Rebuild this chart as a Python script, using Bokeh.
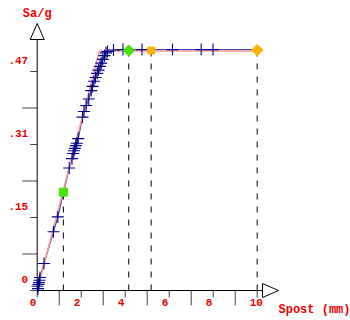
from bokeh.plotting import figure
from bokeh.models import ColumnDataSource, Range1d
from bokeh.core.properties import value
from bokeh.embed import file_html
from bokeh.resources import INLINE

# ---- data ----
pts_x = [0.036, 0.014, 0.059, 0.082, 0.105, 0.127, 0.309, 0.741, 0.936, 1.455,
         1.582, 1.636, 1.673, 1.709, 1.755, 1.800, 1.864, 2.059, 2.127, 2.227,
         2.345, 2.455, 2.514, 2.582, 2.650, 2.727, 2.786, 2.855, 2.909, 2.982,
         3.059, 3.127, 3.195, 3.468, 3.900, 4.764, 6.150, 7.455, 7.991]
pts_y = [0.004, 0.009, 0.013, 0.017, 0.022, 0.028, 0.058, 0.126, 0.158, 0.263,
         0.283, 0.294, 0.300, 0.305, 0.311, 0.316, 0.326, 0.372, 0.384, 0.397,
         0.411, 0.429, 0.438, 0.449, 0.457, 0.466, 0.473, 0.481, 0.488, 0.496,
         0.504, 0.510, 0.513, 0.516, 0.517, 0.517, 0.517, 0.517, 0.517]
curve_end_x = 10.0
curve_end_y = 0.517

fit_x = [0.0, 2.83, 10.0]
fit_y = [0.0, 0.514, 0.514]

mk_x = [1.19, 4.16, 5.18, 10.0]
mk_y = [0.211, 0.515, 0.515, 0.516]
mk_color = ["#44e400", "#44e400", "#ffb400", "#ffb400"]
mk_angle = [0.0, 0.785398, 0.0, 0.785398]
mk_size = [8, 8, 7, 8]

x_major = [0, 2, 4, 6, 8, 10]
x_major_labels = ["0", "2", "4", "6", "8", "10"]
x_minor = [1, 3, 5, 7, 9]
y_major = [0.0, 0.1567, 0.3133, 0.47]
y_major_labels = ["0", ".15", ".31", ".47"]
y_minor = [0.0783, 0.235, 0.3917]

x_title = "Spost (mm)"
y_title = "Sa/g"

# ---- layout constants (pixels / scale) ----
W, H = 350, 320
ORIGIN_PX = (36.7, 290.0)       # where (0, 0) sits on the canvas
PX_X = 1 / 22.0                  # data units per pixel, x
PX_Y = 0.47 / 219.0              # data units per pixel, y
AX_X_END = (262 - ORIGIN_PX[0]) * PX_X
AX_Y_END = (ORIGIN_PX[1] - 39) * PX_Y
HEAD_LEN, HEAD_HALF = 16, 7

RED = "#ee0000"
FONT = value("Liberation Mono")
FSIZE = value("11px")
TSIZE = value("12px")

x0 = -ORIGIN_PX[0] * PX_X
x1 = (W - ORIGIN_PX[0]) * PX_X
y0 = -(H - ORIGIN_PX[1]) * PX_Y
y1 = ORIGIN_PX[1] * PX_Y

p = figure(width=W, height=H, output_backend="svg", toolbar_location=None,
           x_range=Range1d(x0, x1), y_range=Range1d(y0, y1),
           min_border=0, min_border_left=0, min_border_right=0,
           min_border_top=0, min_border_bottom=0)
p.axis.visible = False
p.grid.visible = False
p.outline_line_color = None
p.background_fill_color = "white"
p.border_fill_color = "white"

# ---- axes drawn as glyphs ----
TICK_C = "#444444"
p.segment(x0=[0] * len(y_major), y0=y_major, x1=[-7 * PX_X] * len(y_major), y1=y_major,
          line_color=TICK_C, line_width=1)
p.segment(x0=[0] * len(y_minor), y0=y_minor, x1=[-15 * PX_X] * len(y_minor), y1=y_minor,
          line_color=TICK_C, line_width=1)
p.segment(x0=x_major, y0=[0] * len(x_major), x1=x_major, y1=[-7 * PX_Y] * len(x_major),
          line_color=TICK_C, line_width=1)
p.segment(x0=x_minor, y0=[0] * len(x_minor), x1=x_minor, y1=[-15 * PX_Y] * len(x_minor),
          line_color=TICK_C, line_width=1)
p.segment(x0=[0, 0], y0=[0, 0], x1=[0, AX_X_END], y1=[AX_Y_END, 0],
          line_color="black", line_width=1)
# arrow heads
p.patch([-HEAD_HALF * PX_X, HEAD_HALF * PX_X, 0],
        [AX_Y_END, AX_Y_END, AX_Y_END + HEAD_LEN * PX_Y],
        fill_color="white", line_color="black", line_width=1)
p.patch([AX_X_END, AX_X_END, AX_X_END + HEAD_LEN * PX_X],
        [-HEAD_HALF * PX_Y, HEAD_HALF * PX_Y, 0],
        fill_color="white", line_color="black", line_width=1)

# ---- data ----
p.segment(x0=mk_x, y0=[0] * len(mk_x), x1=mk_x, y1=mk_y,
          line_color="black", line_dash="6 7", line_width=1)
p.line(pts_x + [curve_end_x], pts_y + [curve_end_y], line_color="#4848a8", line_width=1.3)
p.line(fit_x, fit_y, line_color="#ff9a9a", line_width=1.5)
p.scatter(pts_x, pts_y, marker="cross", size=12, line_color="#000088", line_width=1.1)
src = ColumnDataSource(dict(x=mk_x, y=mk_y, c=mk_color, a=mk_angle, s=mk_size))
p.scatter(x="x", y="y", marker="square", angle="a", size="s", fill_color="c",
          line_color="c", source=src)

# ---- texts ----
p.text(x=[0] * len(y_major), y=y_major, text=y_major_labels, x_offset=-9, y_offset=-11,
       text_align="right", text_baseline="middle", text_color=RED,
       text_font=FONT, text_font_style="bold", text_font_size=FSIZE)
p.text(x=x_major, y=[0] * len(x_major), text=x_major_labels, x_offset=-7.5, y_offset=12,
       text_align="left", text_baseline="middle", text_color=RED,
       text_font=FONT, text_font_style="bold", text_font_size=FSIZE)
p.text(x=[0], y=[AX_Y_END + HEAD_LEN * PX_Y], text=[y_title], y_offset=-10,
       text_align="center", text_baseline="middle", text_color=RED,
       text_font=FONT, text_font_style="bold", text_font_size=TSIZE)
p.text(x=[AX_X_END + HEAD_LEN * PX_X], y=[0], text=[x_title], y_offset=19,
       text_align="left", text_baseline="middle", text_color=RED,
       text_font=FONT, text_font_style="bold", text_font_size=TSIZE)

open("out.html", "w").write(file_html(p, INLINE))
